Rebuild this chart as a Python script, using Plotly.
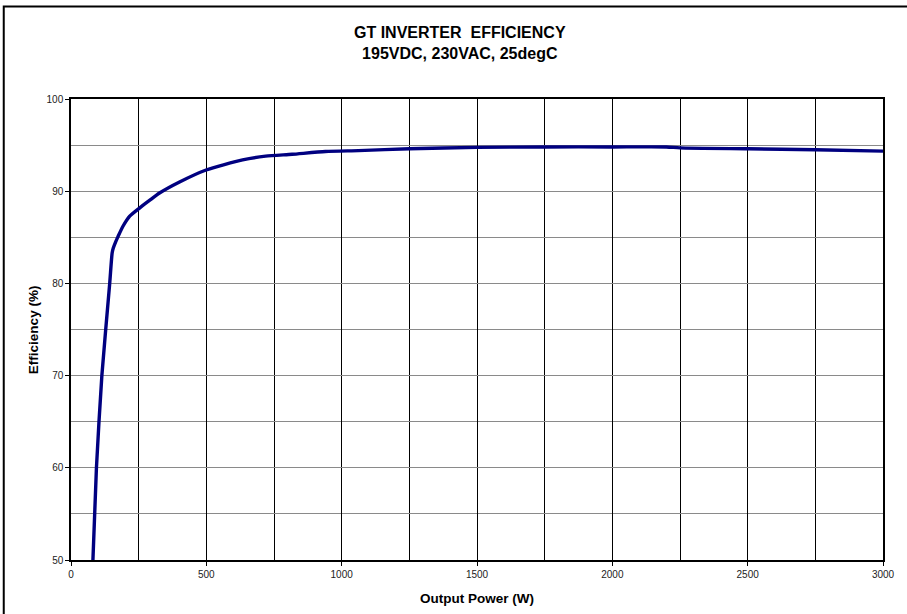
import plotly.graph_objects as go

power_w = [81, 94, 114, 143, 152, 156, 165, 174, 192, 217, 254, 290, 327, 401, 499, 634, 719, 817,
           940, 1062, 1250, 1500, 1750, 2000, 2200, 2250, 2500, 2750, 3000]
efficiency = [50, 60, 70, 80, 83.3, 83.8, 84.5, 85.1, 86.2, 87.3, 88.2, 89.0, 89.8, 91.0, 92.3, 93.4, 93.8,
              94.0, 94.3, 94.4, 94.6, 94.75, 94.8, 94.8, 94.8, 94.7, 94.6, 94.5, 94.35]

title_lines = ["GT INVERTER  EFFICIENCY", "195VDC, 230VAC, 25degC"]
x_title = "Output Power (W)"
y_title = "Efficiency (%)"

FONT = "Liberation Sans, Arial, sans-serif"
W, H = 907, 614
ML, MR, MT, MB = 71, 21, 99, 54
pw = W - ML - MR
ph = H - MT - MB

fig = go.Figure()
fig.add_trace(go.Scatter(
    x=power_w, y=efficiency, mode="lines",
    line=dict(color="#000080", width=3.4, shape="spline", smoothing=0.6),
    showlegend=False, hoverinfo="skip"))

fig.update_xaxes(
    range=[0, 3000], dtick=500, tick0=0,
    showgrid=True, gridcolor="black", gridwidth=1,
    minor=dict(dtick=250, showgrid=True, gridcolor="black", gridwidth=1),
    showline=True, linecolor="black", linewidth=1.5, mirror=True,
    ticks="outside", ticklen=4, tickcolor="black",
    tickfont=dict(family=FONT, size=10, color="#222"),
    zeroline=False)
fig.update_yaxes(
    range=[50, 100], dtick=10, tick0=50,
    showgrid=True, gridcolor="#8a8a8a", gridwidth=1,
    minor=dict(dtick=5, showgrid=True, gridcolor="#8a8a8a", gridwidth=1),
    showline=True, linecolor="black", linewidth=1.5, mirror=True,
    ticks="outside", ticklen=4, tickcolor="black",
    tickfont=dict(family=FONT, size=10, color="#222"),
    zeroline=False)

def px_x(p):
    return (p - ML) / pw

def px_y(p):
    return 1 - (p - MT) / ph

fig.add_annotation(
    xref="paper", yref="paper", x=px_x(461), y=px_y(43), xanchor="center", yanchor="middle",
    text="<b>" + title_lines[0] + "</b><br><b>" + title_lines[1] + "</b>",
    showarrow=False, font=dict(family=FONT, size=16, color="black"), align="center")

fig.add_annotation(
    xref="paper", yref="paper", x=px_x(478), y=px_y(598), xanchor="center", yanchor="middle",
    text="<b>" + x_title + "</b>", showarrow=False,
    font=dict(family=FONT, size=13.5, color="black"))

fig.add_annotation(
    xref="paper", yref="paper", x=px_x(33), y=px_y(330), xanchor="center", yanchor="middle",
    text="<b>" + y_title + "</b>", showarrow=False, textangle=-90,
    font=dict(family=FONT, size=13.5, color="black"))

# outer chart border
fig.add_shape(type="rect", xref="paper", yref="paper",
              x0=px_x(3.5), x1=px_x(925), y0=px_y(630), y1=px_y(6.5),
              line=dict(color="black", width=2), fillcolor="rgba(0,0,0,0)", layer="above")

fig.update_layout(
    width=W, height=H,
    margin=dict(l=ML, r=MR, t=MT, b=MB),
    paper_bgcolor="white", plot_bgcolor="white",
    font=dict(family=FONT))

fig.write_html("out.html", config={"displayModeBar": False},
               post_script="document.body.style.margin='0';document.body.style.overflow='hidden';")
